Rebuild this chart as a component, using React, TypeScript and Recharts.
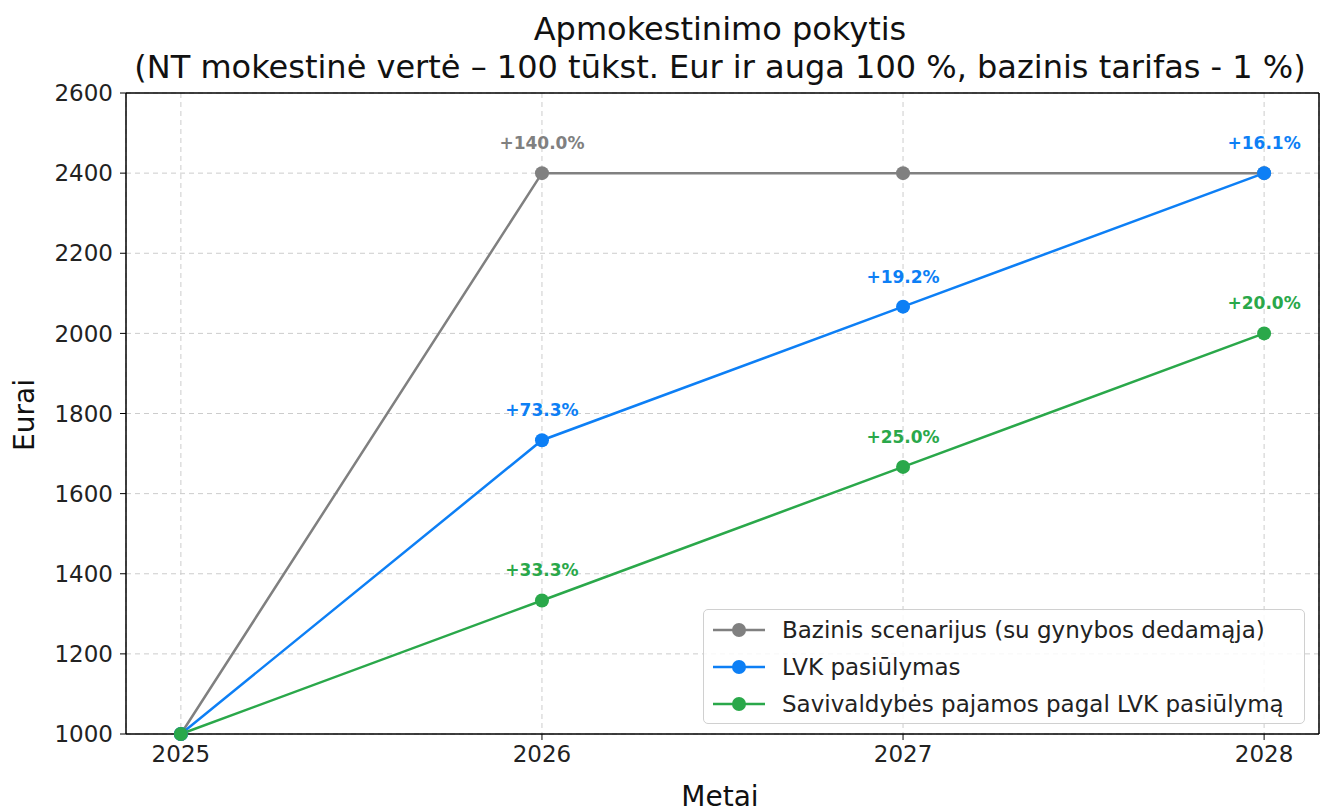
import { LineChart, Line, XAxis, YAxis, CartesianGrid, LabelList } from 'recharts';

const years = [2025, 2026, 2027, 2028];
const baseValues = [1000, 2400, 2400, 2400];
const lvkValues = [1000, 1733.3, 2066.7, 2400];
const municipalValues = [1000, 1333.3, 1666.7, 2000];
const baseLabels = ['', '+140.0%', '', ''];
const lvkLabels = ['', '+73.3%', '+19.2%', '+16.1%'];
const municipalLabels = ['', '+33.3%', '+25.0%', '+20.0%'];
const yTicks = [1000, 1200, 1400, 1600, 1800, 2000, 2200, 2400, 2600];

const series = [
  { key: 'base', name: 'Bazinis scenarijus (su gynybos dedamąja)', color: '#808080', labels: baseLabels },
  { key: 'lvk', name: 'LVK pasiūlymas', color: '#0d7ff5', labels: lvkLabels },
  { key: 'municipal', name: 'Savivaldybės pajamos pagal LVK pasiūlymą', color: '#2aa84a', labels: municipalLabels },
];

const data = years.map((year, i) => ({
  year,
  base: baseValues[i],
  lvk: lvkValues[i],
  municipal: municipalValues[i],
}));

const font = '"DejaVu Sans", sans-serif';
const xDomain = [2024.848, 2028.152];
const frame = { stroke: '#000', strokeWidth: 1.5 };

const makeLabel = (labels: string[], color: string) => (props: any) => {
  const { x, y, index } = props;
  const text = labels[index];
  if (!text) return null;
  return (
    <text x={x} y={y - 24} textAnchor="middle" fill={color} fontSize={17} fontWeight="bold" fontFamily={font}>
      {text}
    </text>
  );
};

// legend drawn as an overlay so it doesn't take space from the plot
const LegendBox = () => (
  <div
    style={{
      position: 'absolute',
      left: 703,
      top: 609,
      width: 602,
      boxSizing: 'border-box',
      border: '1px solid #d0d0d0',
      borderRadius: 5,
      background: 'rgba(255,255,255,0.85)',
      padding: '1px 8px',
      fontFamily: font,
      fontSize: 23,
      color: '#222',
    }}
  >
    {series.map((s) => (
      <div key={s.key} style={{ display: 'flex', alignItems: 'center', height: 37 }}>
        <svg width={54} height={16} style={{ marginRight: 16, flexShrink: 0 }}>
          <line x1={1} y1={8} x2={53} y2={8} stroke={s.color} strokeWidth={2.5} />
          <circle cx={27} cy={8} r={7} fill={s.color} />
        </svg>
        <span style={{ whiteSpace: 'nowrap' }}>{s.name}</span>
      </div>
    ))}
  </div>
);

export default function App() {
  return (
    <div style={{ position: 'absolute', left: 0, top: 0, width: 1330, height: 811, background: '#fff' }}>
      <div
        style={{
          position: 'absolute',
          left: 100,
          width: 1240,
          top: 10,
          textAlign: 'center',
          fontFamily: font,
          fontSize: 32,
          lineHeight: '38px',
          color: '#111',
        }}
      >
        <div>Apmokestinimo pokytis</div>
        <div style={{ whiteSpace: 'nowrap' }}>(NT mokestinė vertė – 100 tūkst. Eur ir auga 100 %, bazinis tarifas - 1 %)</div>
      </div>
      <div
        style={{
          position: 'absolute',
          left: 24,
          top: 415,
          transform: 'translate(-50%, -50%) rotate(-90deg)',
          fontFamily: font,
          fontSize: 28,
          color: '#111',
        }}
      >
        Eurai
      </div>
      <div
        style={{
          position: 'absolute',
          left: 720,
          top: 796,
          transform: 'translate(-50%, -50%)',
          fontFamily: font,
          fontSize: 28,
          color: '#111',
        }}
      >
        Metai
      </div>
      <div style={{ position: 'absolute', left: 0, top: 0 }}>
        <LineChart width={1330} height={811} data={data} margin={{ top: 92, right: 10, bottom: 30, left: 0 }}>
          <CartesianGrid xAxisId="bottom" yAxisId="left" stroke="#cccccc" strokeDasharray="5 4" />
          <XAxis
            xAxisId="bottom"
            dataKey="year"
            type="number"
            domain={xDomain}
            ticks={years}
            height={47}
            tickSize={6}
            tickMargin={6}
            axisLine={frame}
            tickLine={{ stroke: '#000' }}
            tick={{ fontSize: 23, fill: '#222', fontFamily: font }}
          />
          <XAxis xAxisId="top" orientation="top" dataKey="year" type="number" domain={xDomain} height={1} tick={false} tickLine={false} axisLine={frame} />
          <YAxis
            yAxisId="left"
            domain={[1000, 2600]}
            ticks={yTicks}
            width={126}
            tickSize={6}
            tickMargin={7}
            axisLine={frame}
            tickLine={{ stroke: '#000' }}
            tick={{ fontSize: 23, fill: '#222', fontFamily: font }}
          />
          <YAxis yAxisId="right" orientation="right" domain={[1000, 2600]} width={1} tick={false} tickLine={false} axisLine={frame} />
          {series.map((s) => (
            <Line
              key={s.key}
              xAxisId="bottom"
              yAxisId="left"
              dataKey={s.key}
              name={s.name}
              stroke={s.color}
              strokeWidth={2.5}
              dot={{ r: 7, fill: s.color, stroke: s.color, strokeWidth: 0 }}
              activeDot={false}
              isAnimationActive={false}
            >
              <LabelList dataKey={s.key} content={makeLabel(s.labels, s.color)} />
            </Line>
          ))}
        </LineChart>
      </div>
      <LegendBox />
    </div>
  );
}
